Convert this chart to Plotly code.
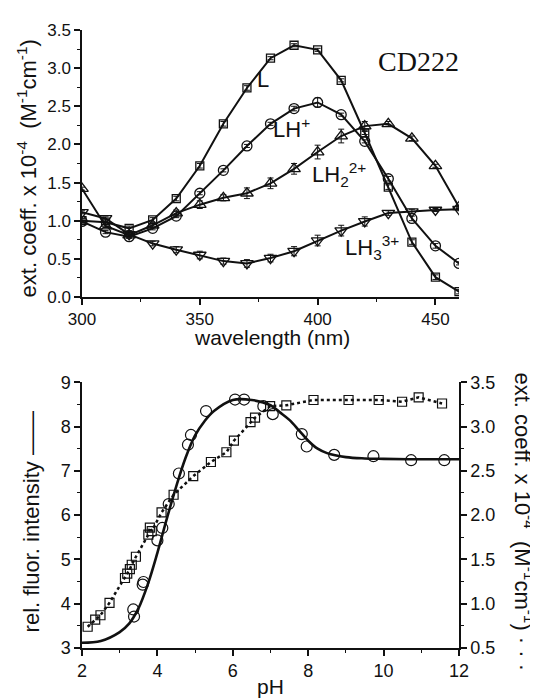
import plotly.graph_objects as go

# ---- top panel: absorption spectra ----
wavelength = [300, 310, 320, 330, 340, 350, 360, 370, 380, 390, 400, 410, 420, 430, 440, 450, 460]
eps_L = [1.00, 0.98, 0.90, 1.01, 1.29, 1.72, 2.27, 2.74, 3.13, 3.30, 3.24, 2.84, 2.15, 1.44, 0.72, 0.26, 0.07]
eps_LH = [0.99, 0.85, 0.79, 0.90, 1.06, 1.36, 1.66, 1.98, 2.27, 2.47, 2.55, 2.39, 2.04, 1.55, 1.03, 0.67, 0.44]
eps_LH2 = [1.42, 0.93, 0.81, 0.94, 1.10, 1.21, 1.30, 1.36, 1.49, 1.68, 1.90, 2.11, 2.24, 2.27, 2.08, 1.72, 1.18]
eps_LH3 = [1.11, 1.03, 0.82, 0.70, 0.62, 0.55, 0.47, 0.44, 0.51, 0.60, 0.74, 0.87, 0.99, 1.10, 1.12, 1.14, 1.15]
err_L = [0.03, 0.03, 0.03, 0.03, 0.03, 0.03, 0.03, 0.03, 0.02, 0.02, 0.02, 0.02, 0.02, 0.03, 0.03, 0.03, 0.03]
err_LH = [0.02, 0.02, 0.02, 0.02, 0.02, 0.02, 0.02, 0.02, 0.02, 0.03, 0.06, 0.02, 0.02, 0.03, 0.03, 0.03, 0.02]
err_LH2 = [0.02, 0.02, 0.02, 0.03, 0.04, 0.05, 0.04, 0.07, 0.07, 0.07, 0.09, 0.09, 0.06, 0.03, 0.03, 0.02, 0.02]
err_LH3 = [0.02, 0.02, 0.02, 0.03, 0.04, 0.05, 0.04, 0.05, 0.05, 0.06, 0.07, 0.07, 0.06, 0.03, 0.03, 0.02, 0.02]

# ---- bottom panel: pH titration ----
ph_fluor = [3.36, 3.38, 3.61, 3.63, 4.00, 4.13, 4.30, 4.57, 4.81, 4.89, 5.29, 6.06, 6.30,
            6.81, 7.06, 7.83, 7.96, 8.69, 9.73, 10.73, 11.61]
fluor = [3.87, 3.71, 4.43, 4.49, 5.43, 5.71, 6.25, 6.94, 7.59, 7.81, 8.35, 8.61, 8.61,
         8.46, 8.28, 7.83, 7.55, 7.36, 7.33, 7.24, 7.24]

ph_fit = [2.0, 2.5, 3.0, 3.25, 3.5, 3.75, 4.0, 4.25, 4.5, 4.75, 5.0, 5.25, 5.5, 6.0, 6.5,
          7.0, 7.25, 7.5, 7.75, 8.0, 8.25, 8.5, 9.0, 9.5, 10.0, 11.0, 12.0]
fluor_fit = [3.12, 3.16, 3.36, 3.55, 3.90, 4.45, 5.15, 5.92, 6.65, 7.30, 7.80, 8.12, 8.35,
             8.60, 8.60, 8.48, 8.32, 8.15, 7.92, 7.68, 7.50, 7.40, 7.31, 7.28, 7.27, 7.26, 7.26]

ph_abs = [2.15, 2.35, 2.49, 2.73, 3.14, 3.20, 3.27, 3.32, 3.43, 3.76, 3.80, 3.85, 4.11, 4.43,
          4.95, 5.42, 5.83, 6.03, 6.47, 6.59, 6.99, 7.42, 8.14, 9.07, 9.87, 10.49, 10.93, 11.55]
eps_ph = [0.74, 0.82, 0.87, 1.01, 1.29, 1.34, 1.39, 1.44, 1.53, 1.78, 1.86, 1.82, 2.03, 2.23,
          2.44, 2.60, 2.71, 2.84, 3.05, 3.10, 3.23, 3.24, 3.30, 3.30, 3.30, 3.28, 3.33, 3.26]

FONT = "Liberation Sans, Arial, sans-serif"
SERIF = "Liberation Serif, Times New Roman, serif"
BLACK = "#111111"

# the page body has an 8px margin: the figure starts at (8, 8) and runs to the window edge
W, H = 530, 692
ML, MR, MT, MB = 74, 79, 15, 52

fig = go.Figure()

top_series = [
    (eps_L, err_L, "square-open", 8),
    (eps_LH, err_LH, "circle-open", 10),
    (eps_LH2, err_LH2, "triangle-up-open", 11),
    (eps_LH3, err_LH3, "triangle-down-open", 11),
]
for vals, errs, sym, size in top_series:
    fig.add_trace(go.Scatter(
        x=wavelength, y=vals, mode="lines+markers",
        line=dict(color=BLACK, width=2),
        marker=dict(symbol=sym, size=size, color=BLACK, line=dict(width=1.3)),
        error_y=dict(type="data", array=errs, color=BLACK, thickness=1, width=3),
        xaxis="x", yaxis="y", showlegend=False,
    ))

fig.add_trace(go.Scatter(
    x=ph_fit, y=fluor_fit, mode="lines", line=dict(color=BLACK, width=2.6, shape="spline"),
    xaxis="x2", yaxis="y2", showlegend=False,
))
fig.add_trace(go.Scatter(
    x=ph_fluor, y=fluor, mode="markers",
    marker=dict(symbol="circle-open", size=11, color=BLACK, line=dict(width=1.2)),
    xaxis="x2", yaxis="y2", showlegend=False,
))
fig.add_trace(go.Scatter(
    x=ph_abs, y=eps_ph, mode="lines+markers",
    line=dict(color=BLACK, width=2.5, dash="dot"),
    marker=dict(symbol="square-open", size=9, color=BLACK, line=dict(width=1.2)),
    xaxis="x2", yaxis="y3", showlegend=False,
))


def axis(size, **kw):
    d = dict(
        showline=True, linecolor=BLACK, linewidth=1.5, mirror=False,
        ticks="outside", ticklen=6, tickwidth=1.5, tickcolor=BLACK,
        showgrid=False, zeroline=False,
        tickfont=dict(family=FONT, size=size, color=BLACK),
    )
    d.update(kw)
    return d


def minor(step):
    return dict(ticks="outside", ticklen=3, dtick=step, tickcolor=BLACK, tickwidth=1)


fig.update_layout(
    width=W, height=H,
    paper_bgcolor="white", plot_bgcolor="white",
    margin=dict(l=ML, r=MR, t=MT, b=MB),
    xaxis=axis(17, range=[300, 460], domain=[0, 1], anchor="y",
               tickvals=[300, 350, 400, 450], minor=minor(25)),
    yaxis=axis(17, range=[0, 3.5], domain=[0.568, 1.0], anchor="x", dtick=0.5,
               tickformat=".1f", minor=minor(0.25)),
    xaxis2=axis(18, range=[2, 12], domain=[0, 1], anchor="y2", dtick=2, minor=minor(1)),
    yaxis2=axis(18, range=[3, 9], domain=[0, 0.43], anchor="x2", dtick=1, minor=minor(0.5)),
    yaxis3=axis(18, range=[0.5, 3.5], overlaying="y2", side="right", anchor="x2",
                dtick=0.5, tickformat=".1f", minor=minor(0.25)),
)


def page_x(px):
    return (px - 8 - ML) / (W - ML - MR)


def page_y(py):
    return (H - MB - (py - 8)) / (H - MT - MB)


labels = [
    ("CD222", 443, 3.09, 28, SERIF),
    ("L", 377, 2.85, 22, FONT),
    ("LH<sup>+</sup>", 389, 2.22, 22, FONT),
    ("LH<sub>2</sub><sup>2+</sup>", 409, 1.6, 22, FONT),
    ("LH<sub>3</sub><sup>3+</sup>", 423, 0.65, 22, FONT),
]
for text, x, y, size, fam in labels:
    fig.add_annotation(text=text, x=x, y=y, xref="x", yref="y", showarrow=False,
                       xanchor="center", yanchor="middle",
                       font=dict(family=fam, size=size, color=BLACK))

titles = [
    ("wavelength (nm)", 272, 334, 0, 21),
    ("pH", 270, 687, 0, 21),
    ("ext. coeff. x 10<sup>-4</sup>  (M<sup>-1</sup>cm<sup>-1</sup>)", 27, 163, -90, 22),
    ("rel. fluor. intensity \u2014\u2014", 31, 521, -90, 22),
    ("ext. coeff. x 10<sup>-4</sup>  (M<sup>-1</sup>cm<sup>-1</sup>) \u00b7 \u00b7 \u00b7", 524, 520, 90, 22),
]
for text, px, py, ang, size in titles:
    fig.add_annotation(text=text, x=page_x(px), y=page_y(py), xref="paper", yref="paper",
                       showarrow=False, textangle=ang, xanchor="center", yanchor="middle",
                       font=dict(family=FONT, size=size, color=BLACK))

fig.write_html("out.html")
